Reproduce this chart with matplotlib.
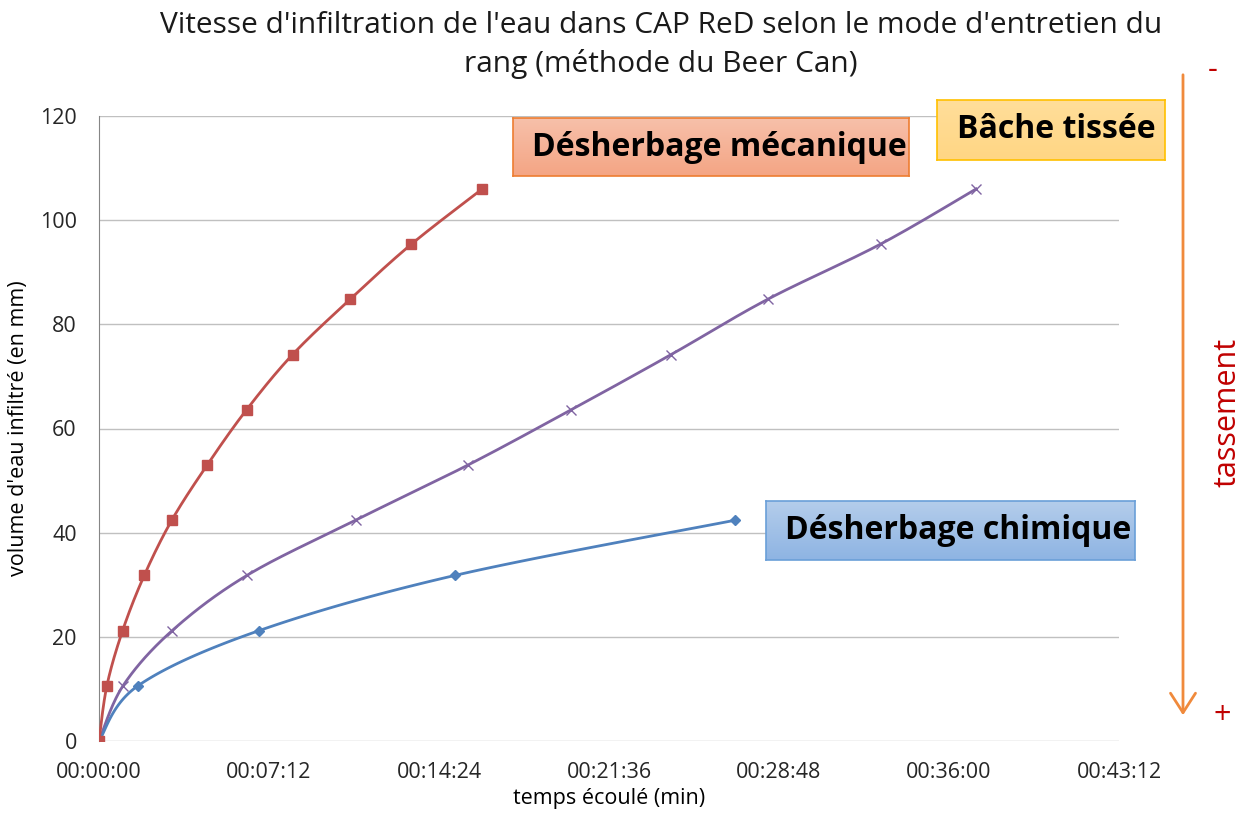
import numpy as np
import matplotlib
matplotlib.use("Agg")
import matplotlib.pyplot as plt
from matplotlib.ticker import FuncFormatter, MultipleLocator

plt.rcParams['font.family'] = ['Open Sans', 'DejaVu Sans']

# temps en secondes, volume en mm
meca_t = [0, 20, 60, 115, 185, 275, 375, 492, 638, 794, 974]
meca_v = [0, 10.6, 21.2, 31.8, 42.4, 53.0, 63.6, 74.2, 84.8, 95.4, 106.0]
bache_t = [0, 61, 186, 376, 652, 938, 1200, 1454, 1699, 1986, 2229]
bache_v = [0, 10.6, 21.2, 31.8, 42.4, 53.0, 63.6, 74.2, 84.8, 95.4, 106.0]
chim_t = [0, 99, 407, 905, 1617]
chim_v = [0, 10.6, 21.2, 31.8, 42.4]


def smooth(xs, ys, n=30):
    # courbe lissée façon Excel (bezier, tension 1/6)
    p = np.column_stack([xs, ys]).astype(float)
    pts = [p[0]]
    for i in range(len(p) - 1):
        p0 = p[i - 1] if i > 0 else p[i]
        p3 = p[i + 2] if i + 2 < len(p) else p[i + 1]
        c1 = p[i] + (p[i + 1] - p0) / 6
        c2 = p[i + 1] - (p3 - p[i]) / 6
        t = np.linspace(0, 1, n)[1:, None]
        b = ((1 - t) ** 3) * p[i] + 3 * ((1 - t) ** 2) * t * c1 + 3 * (1 - t) * t ** 2 * c2 + t ** 3 * p[i + 1]
        pts.extend(b)
    pts = np.array(pts)
    return pts[:, 0], pts[:, 1]


def hms(x, pos):
    x = int(round(x))
    return "%02d:%02d:%02d" % (x // 3600, (x % 3600) // 60, x % 60)


fig = plt.figure(figsize=(12.43, 8.19), dpi=100)
ax = fig.add_axes([99 / 1243, 1 - 741 / 819, 1020 / 1243, 625 / 819])

series = [
    (bache_t, bache_v, "#8064A2", "x", 7, 1.0),
    (chim_t, chim_v, "#4F81BD", "D", 5, 1.0),
    (meca_t, meca_v, "#C0504D", "s", 7, 1.0),
]
for t, v, c, m, ms, mew in series:
    sx, sy = smooth(t, v)
    ax.plot(sx, sy, color=c, lw=2, zorder=3)
    ax.plot(t, v, ls="none", marker=m, ms=ms, color=c, mec=c, mew=mew, zorder=4)

ax.set_xlim(0, 2592)
ax.set_ylim(0, 120)
ax.xaxis.set_major_locator(MultipleLocator(432))
ax.xaxis.set_major_formatter(FuncFormatter(hms))
ax.yaxis.set_major_locator(MultipleLocator(20))
ax.grid(axis="y", color="#C0C0C0", lw=1)
ax.set_axisbelow(True)
for s in ["top", "right", "bottom"]:
    ax.spines[s].set_visible(False)
ax.spines["left"].set_color("#868686")
ax.tick_params(length=0, labelsize=15.5, labelcolor="#262626")
ax.tick_params(axis="x", pad=15)
ax.tick_params(axis="y", pad=16)
ax.set_xlabel("temps écoulé (min)", fontsize=15.5, labelpad=4)
ax.set_ylabel("volume d'eau infiltré (en mm)", fontsize=15.5, labelpad=8)

fig.text(661 / 1243, 1 - 45 / 819,
         "Vitesse d'infiltration de l'eau dans CAP ReD selon le mode d'entretien du\nrang (méthode du Beer Can)",
         ha="center", va="center", fontsize=21.5, linespacing=1.35, color="#1a1a1a")


def box(x0, y0, x1, y1, top, bottom, edge, label, tx, fs):
    bx = fig.add_axes([x0 / 1243, 1 - y1 / 819, (x1 - x0) / 1243, (y1 - y0) / 819])
    grad = np.linspace(0, 1, 64)[:, None, None]
    a = np.array(matplotlib.colors.to_rgb(top))
    b = np.array(matplotlib.colors.to_rgb(bottom))
    img = a * (1 - grad) + b * grad
    bx.imshow(img, aspect="auto", extent=[0, 1, 0, 1])
    bx.set_xticks([])
    bx.set_yticks([])
    for s in bx.spines.values():
        s.set_color(edge)
        s.set_linewidth(1.2)
    fig.text(tx / 1243, 1 - (y0 + y1) / 2 / 819, label, ha="center", va="center",
             fontsize=fs, fontweight="bold", color="black")


box(513, 118, 909, 176, "#F7C0AA", "#F4A584", "#ED7D31", "Désherbage mécanique", 719, 23)
box(937, 100, 1165, 160, "#FFDE9A", "#FFD684", "#FFC000", "Bâche tissée", 1056, 23)
box(766, 501, 1135, 560, "#B4CDEB", "#8EB4E3", "#6A9FD8", "Désherbage chimique", 958, 23)

fig.patches.append(matplotlib.patches.FancyArrowPatch(
    (1183 / 1243, 1 - 72 / 819), (1183 / 1243, 1 - 718 / 819), transform=fig.transFigure,
    arrowstyle="->,head_length=14,head_width=9", color="#F08A3C", lw=2, mutation_scale=1))
fig.text(1213 / 1243, 1 - 70 / 819, "-", ha="center", va="center", fontsize=22, color="#C00000")
fig.text(1222 / 1243, 1 - 716 / 819, "+", ha="center", va="center", fontsize=22, color="#C00000")
fig.text(1228 / 1243, 1 - 412 / 819, "tassement", ha="center", va="center", rotation=90,
         fontsize=22, color="#C00000")

fig.savefig("out.png", dpi=100)
